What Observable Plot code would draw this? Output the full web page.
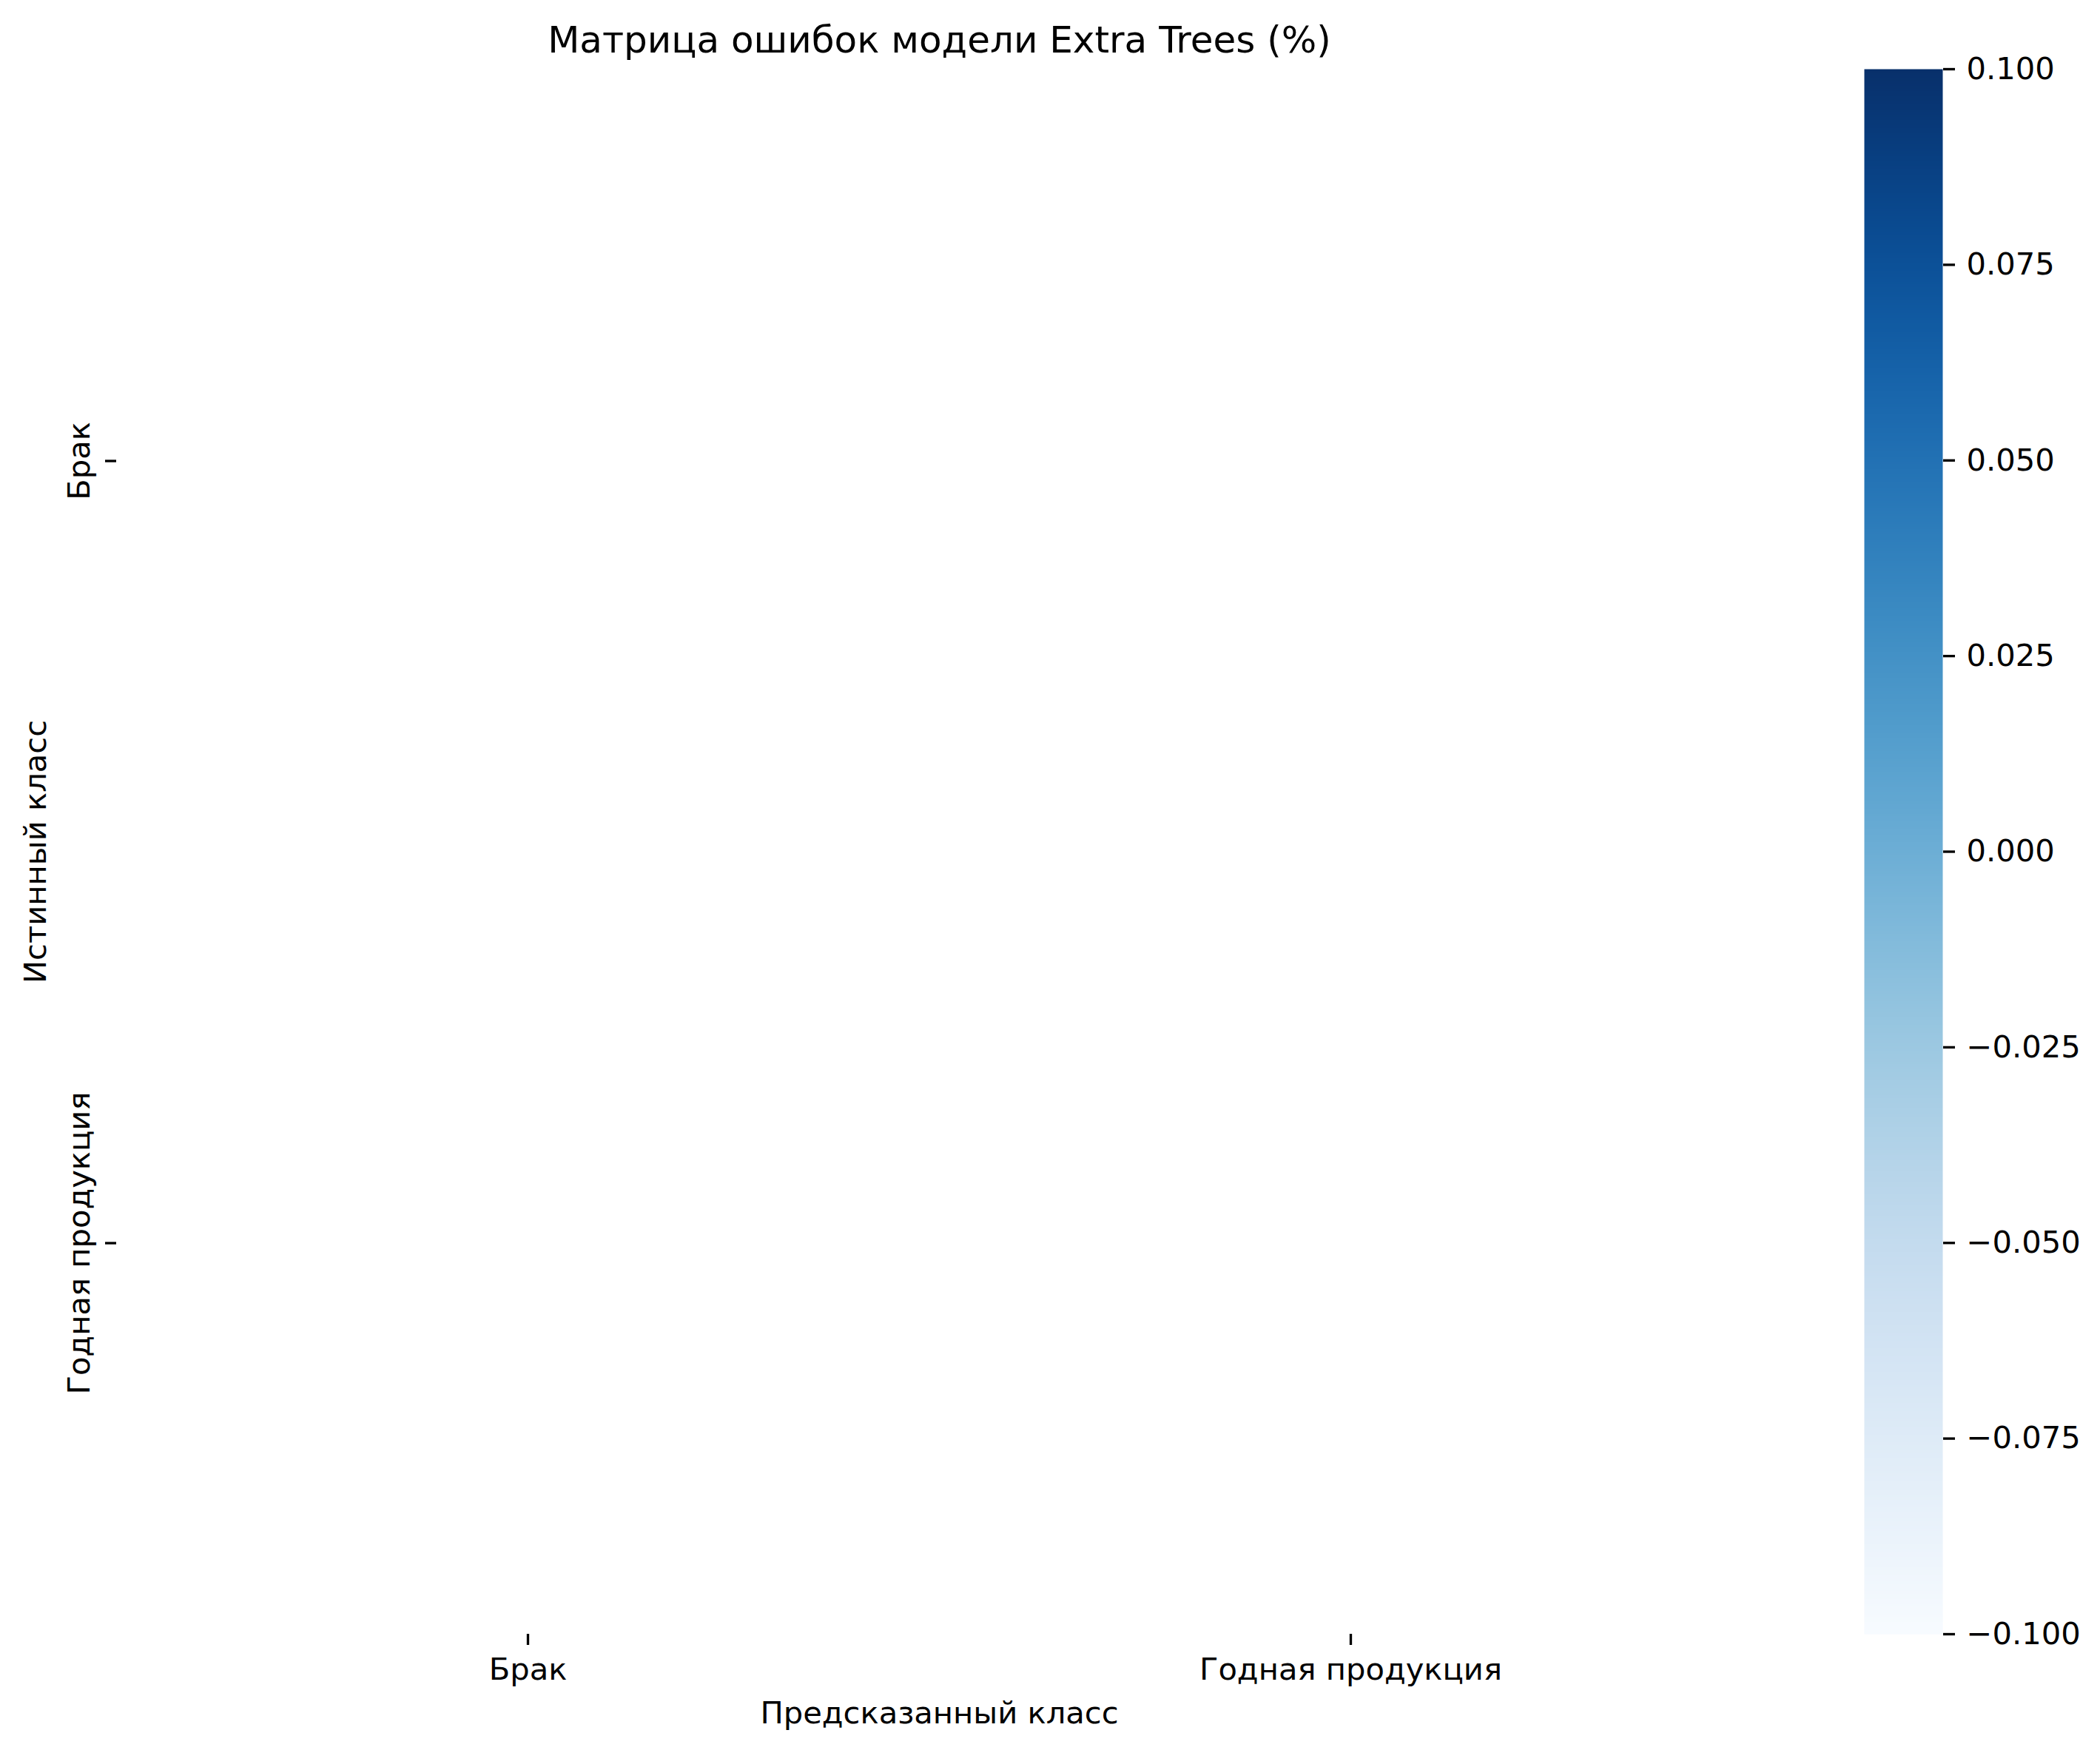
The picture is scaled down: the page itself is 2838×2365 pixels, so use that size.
<!DOCTYPE html>
<html>
<head>
<meta charset="utf-8">
<script src="https://cdn.jsdelivr.net/npm/d3@7"></script>
<script src="https://cdn.jsdelivr.net/npm/@observablehq/plot@0.6"></script>
<style>
  html, body { margin: 0; padding: 0; background: #fff; }
  #wrap { position: relative; width: 2838px; height: 2365px; font-family: "DejaVu Sans", sans-serif; }
  #wrap > svg { position: absolute; top: 0; }
</style>
</head>
<body>
<div id="wrap"></div>
<script>
// ---- data ----
const title = "Матрица ошибок модели Extra Trees (%)";
const classes = ["Брак", "Годная продукция"];
const trueLabels = ["Брак", "Брак", "Годная продукция", "Годная продукция"];
const predLabels = ["Брак", "Годная продукция", "Брак", "Годная продукция"];
const cmValues = [NaN, NaN, NaN, NaN]; // empty matrix (no values shown)
const xLabel = "Предсказанный класс";
const yLabel = "Истинный класс";
const cbDomain = [-0.1, 0.1];
const cbTicks = [-0.1, -0.075, -0.05, -0.025, 0, 0.025, 0.05, 0.075, 0.1];

const cells = cmValues.map((v, i) => ({pred: predLabels[i], truth: trueLabels[i], value: v}));

const FS = 41.67;
const tickW = 3.33;
const wrap = document.getElementById("wrap");

const main = Plot.plot({
  width: 2838,
  height: 2365,
  marginLeft: 157,
  marginRight: 457,
  marginTop: 93,
  marginBottom: 157,
  style: {fontFamily: "DejaVu Sans", fontSize: FS + "px", background: "transparent", color: "black"},
  x: {type: "band", domain: classes, padding: 0},
  y: {type: "band", domain: classes, padding: 0},
  color: {type: "linear", scheme: "blues", domain: cbDomain},
  marks: [
    Plot.cell(cells, {x: "pred", y: "truth", fill: "value", inset: 0}),
    Plot.axisX({anchor: "bottom", tickSize: 15, tickPadding: 17, strokeWidth: tickW, fontSize: FS,
      label: xLabel, labelAnchor: "center", labelOffset: 120}),
    Plot.axisY({anchor: "left", tickSize: 15, tickPadding: 22, tickRotate: -90, strokeWidth: tickW, fontSize: FS,
      label: yLabel, labelAnchor: "center", labelOffset: 125}),
    Plot.text([title], {frameAnchor: "top", lineAnchor: "top", dy: -58.5, fontSize: 50, text: d => d})
  ]
});
main.style.left = "0px";
wrap.appendChild(main);

const cb = Plot.plot({
  width: 319,
  height: 2365,
  marginLeft: 0,
  marginRight: 213,
  marginTop: 93,
  marginBottom: 157,
  style: {fontFamily: "DejaVu Sans", fontSize: FS + "px", background: "transparent", color: "black"},
  x: {domain: [0, 1], axis: null},
  y: {domain: cbDomain},
  color: {type: "linear", scheme: "blues", domain: cbDomain},
  marks: [
    Plot.raster({x1: 0, x2: 1, y1: cbDomain[0], y2: cbDomain[1], width: 1, height: 600, fill: (x, y) => y}),
    Plot.axisY({anchor: "right", ticks: cbTicks, tickFormat: d3.format(".3f"), tickSize: 16, tickPadding: 16,
      strokeWidth: tickW, fontSize: FS, label: null})
  ]
});
cb.style.left = "2519px";
wrap.appendChild(cb);
</script>
</body>
</html>
